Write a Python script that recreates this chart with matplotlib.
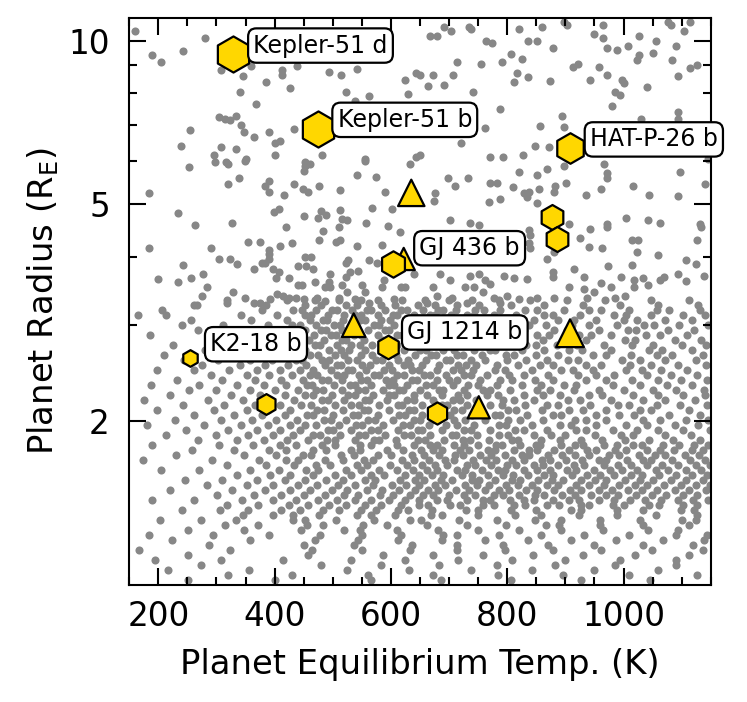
import matplotlib
matplotlib.use("Agg")
import matplotlib.pyplot as plt
from matplotlib.ticker import FixedLocator, FixedFormatter, MultipleLocator, NullFormatter

plt.rcParams['font.family'] = ['DejaVu Sans']

# background planet population, sparse upper part: (Teq [K], radius [R_E])
field_upper = [
    (160, 10.4), (281, 10.1), (189, 9.39), (205, 9.15), (243, 9.55), (308, 8.81), (346, 8.59), (360, 8.98),
    (412, 8.81), (412, 8.63), (438, 8.98), (493, 8.74), (514, 8.63), (541, 8.88), (624, 8.45), (643, 8.70),
    (386, 8.38), (426, 8.17), (341, 8.06), (522, 8.06), (562, 7.90), (539, 7.73), (629, 7.99), (368, 7.64),
    (305, 7.25), (315, 7.19), (324, 7.13), (333, 7.28), (343, 7.01), (255, 6.84), (348, 6.78), (365, 6.64),
    (391, 6.78), (434, 6.87), (239, 6.41), (307, 6.38), (333, 6.33), (401, 6.47), (410, 6.53), (295, 6.15),
    (350, 6.07), (401, 6.15), (481, 6.15), (555, 6.07), (453, 5.99), (643, 6.12), (317, 5.97),
    (667, 10.2), (679, 10.2), (691, 10.6), (703, 10.4), (735, 10.6), (737, 10.5), (820, 10.5), (860, 10.6),
    (897, 10.8), (903, 10.7), (965, 10.7), (949, 10.3), (965, 10.1), (1027, 10.2), (1055, 10.0), (1077, 10.8),
    (1082, 10.7), (1104, 10.4), (1115, 10.8), (764, 10.0), (774, 9.9), (835, 9.96), (852, 10.0), (878, 9.7),
    (972, 9.7), (988, 9.6), (1008, 9.75), (1027, 9.4), (1023, 9.2), (1050, 9.5), (1090, 9.75), (1084, 9.2),
    (1115, 8.9), (1127, 9.0), (1094, 8.6), (806, 9.46), (791, 9.15), (825, 9.26), (755, 9.07), (714, 9.15),
    (650, 8.66), (672, 8.66), (706, 8.63), (663, 8.24), (691, 8.27), (741, 8.06), (816, 8.7), (836, 8.56),
    (811, 8.38), (873, 8.41), (913, 8.95), (921, 9.07), (958, 8.95), (942, 8.45), (972, 8.63), (998, 8.45),
    (1001, 8.34), (1040, 8.2), (986, 8.06), (994, 7.93), (981, 7.57), (788, 7.48), (894, 7.28), (856, 6.98),
    (897, 6.95), (762, 6.9), (720, 6.47), (848, 6.41), (871, 6.38), (771, 6.12), (793, 6.12), (827, 6.15),
    (1030, 7.19), (1093, 7.38), (1093, 7.19), (1145, 6.07), (650, 6.15),
    (252, 5.85), (298, 5.97), (320, 5.92), (349, 6.02), (450, 5.77), (453, 5.89), (461, 5.94), (556, 6.02),
    (633, 5.92), (184, 5.24), (234, 4.83), (263, 4.59), (320, 5.45), (339, 5.59), (326, 4.63), (383, 5.4),
    (390, 5.52), (391, 5.28), (416, 5.21), (434, 5.45), (449, 5.33), (457, 5.26), (476, 5.4), (513, 5.31),
    (541, 5.67), (575, 5.62), (590, 5.26), (399, 4.85), (408, 4.91), (450, 4.77), (480, 4.87), (488, 4.79),
    (474, 4.72), (513, 4.89), (516, 4.7), (525, 4.69), (568, 4.93), (601, 4.91), (558, 4.63), (511, 4.54),
    (420, 4.54), (483, 4.46), (595, 4.56), (615, 4.44), (184, 4.16), (291, 4.16), (355, 4.27), (375, 4.27),
    (410, 4.2), (430, 4.25), (476, 4.3), (506, 4.27), (513, 4.3), (541, 4.2), (585, 4.21), (391, 4.13),
    (390, 4.06), (305, 3.97), (323, 3.97), (336, 3.88), (243, 3.87), (277, 3.73), (257, 3.66), (234, 3.6),
    (200, 3.65), (284, 3.53), (275, 3.4), (364, 3.8), (378, 3.91), (383, 3.9), (391, 3.97), (398, 3.81),
    (407, 3.75), (403, 3.66), (424, 3.66), (440, 3.85), (453, 4.0), (463, 4.0), (454, 3.85), (466, 3.81),
    (470, 3.6), (496, 3.72), (493, 3.6), (522, 3.91), (527, 3.95), (522, 3.68), (530, 3.75), (544, 3.78),
    (562, 3.95), (576, 3.9), (440, 3.55), (447, 3.55), (487, 3.53), (496, 3.52), (516, 3.56), (525, 3.45),
    (551, 3.55), (555, 3.45), (585, 3.53), (588, 3.63), (617, 3.52), (625, 3.53), (640, 3.73), (605, 3.35),
    (349, 3.37), (364, 3.3), (375, 3.3), (392, 3.35), (404, 3.43), (415, 3.4), (424, 3.37), (436, 3.37),
    (450, 3.35), (473, 3.37), (487, 3.33), (510, 3.37), (539, 3.35), (562, 3.3), (318, 3.29), (329, 3.45),
    (266, 3.27),
    (820, 5.73), (851, 5.67), (868, 5.8), (898, 5.87), (966, 5.94), (972, 5.7), (971, 5.6), (1097, 5.73),
    (1140, 5.45), (699, 5.59), (733, 5.59), (710, 5.4), (770, 5.47), (782, 5.47), (810, 5.38), (828, 5.24),
    (837, 5.26), (834, 5.15), (854, 5.33), (880, 5.26), (883, 5.4), (901, 5.47), (936, 5.21), (961, 5.33),
    (1017, 5.4), (1044, 5.21), (1094, 5.19), (676, 5.24), (674, 5.07), (768, 5.05), (788, 5.11), (851, 5.03),
    (702, 4.69), (736, 4.63), (752, 4.59), (837, 4.48), (840, 4.39), (837, 4.25), (839, 4.15), (906, 4.61),
    (942, 4.5), (925, 4.34), (971, 4.61), (971, 4.54), (1005, 4.73), (1042, 4.69), (1063, 4.63), (1132, 4.61),
    (1133, 4.54), (1014, 4.31), (1025, 4.3), (1127, 4.3), (940, 4.18), (963, 4.15), (1024, 4.08), (1059, 4.03),
    (880, 4.08), (869, 3.97), (915, 3.81), (974, 3.85), (1015, 3.87), (1107, 3.95), (1124, 3.88), (1093, 3.72),
    (1138, 3.7), (1070, 3.68), (1063, 3.63), (1034, 3.66), (1018, 3.63), (995, 3.68), (961, 3.58), (932, 3.68),
    (878, 3.75), (879, 3.68), (1042, 3.55), (1018, 3.53), (1107, 3.61), (978, 3.52), (986, 3.37), (1002, 3.4),
    (949, 3.45), (932, 3.5), (938, 3.37), (906, 3.52), (880, 3.37), (851, 3.37), (685, 3.72), (702, 3.63),
    (736, 3.7), (751, 3.73), (762, 3.63), (771, 3.57), (794, 3.69), (811, 3.66), (834, 3.65), (673, 3.53),
    (728, 3.52), (742, 3.53), (759, 3.45), (777, 3.37), (800, 3.4), (820, 3.35), (705, 3.37), (679, 3.4),
    (662, 3.3), (731, 3.3), (788, 3.3),
]

# dense lower part, read row by row: radius of the row, then Teq of the dots in it
field_row_rad = [3.333, 3.264,
                 3.195, 3.128, 3.063, 2.999, 2.937, 2.875, 2.815, 2.757, 2.699, 2.643, 2.588, 2.533, 2.480,
                 2.429, 2.378, 2.328, 2.280, 2.232, 2.185, 2.140, 2.095, 2.051, 2.008, 1.966, 1.925, 1.885,
                 1.845, 1.807, 1.769, 1.732, 1.696, 1.660, 1.626, 1.592, 1.558, 1.526, 1.494, 1.463, 1.432,
                 1.402, 1.373, 1.344, 1.316, 1.288, 1.261, 1.235, 1.209, 1.184, 1.159, 1.135, 1.111, 1.088,
                 1.065, 1.043, 1.021]
field_row_teq = [
    [318, 421, 470, 511, 548, 577, 619, 658, 700, 739, 785, 840, 902, 968, 1047, 1112],
    [262, 386, 452, 480, 522, 541, 583, 607, 646, 676, 713, 752, 807, 863, 931, 994, 1060, 1128],
    [206, 378, 431, 447, 472, 498, 507, 533, 559, 566, 590, 618, 627, 655, 681, 690, 712, 745, 760, 788, 830, 851, 897, 940, 962, 1010, 1058, 1079, 1131],
    [165, 214, 342, 404, 452, 463, 491, 520, 538, 549, 577, 603, 611, 640, 668, 675, 703, 731, 742, 777, 815, 864, 878, 925, 983, 1004, 1047, 1102, 1140],
    [257, 360, 421, 461, 484, 490, 518, 547, 556, 583, 598, 624, 652, 663, 688, 719, 734, 768, 792, 806, 846, 887, 914, 953, 1000, 1023, 1071, 1118],
    [240, 312, 389, 430, 443, 471, 502, 513, 539, 571, 580, 606, 634, 646, 670, 699, 707, 741, 773, 811, 838, 866, 912, 941, 989, 1035, 1052, 1095, 1145],
    [269, 351, 404, 452, 479, 488, 516, 528, 560, 589, 597, 625, 655, 664, 692, 720, 749, 758, 795, 828, 881, 903, 957, 1008, 1021, 1077, 1122],
    [186, 328, 373, 418, 437, 468, 497, 505, 537, 549, 578, 611, 619, 644, 678, 688, 712, 729, 766, 787, 852, 872, 923, 944, 979, 1038, 1063, 1109],
    [296, 362, 399, 446, 459, 485, 516, 523, 553, 585, 594, 630, 641, 660, 697, 706, 738, 776, 801, 816, 861, 899, 935, 1003, 1019, 1088, 1133],
    [226, 318, 382, 425, 470, 478, 507, 532, 547, 568, 602, 611, 637, 669, 677, 721, 733, 756, 790, 833, 849, 886, 920, 966, 1014, 1051, 1100, 1141],
    [280, 345, 405, 440, 452, 494, 514, 528, 556, 583, 589, 622, 650, 661, 689, 708, 743, 771, 779, 825, 864, 906, 929, 978, 1043, 1066, 1118],
    [210, 330, 376, 419, 460, 474, 503, 520, 548, 568, 595, 609, 641, 669, 677, 713, 724, 756, 798, 812, 849, 887, 948, 970, 1012, 1057, 1084, 1136],
    [245, 303, 358, 396, 437, 447, 481, 493, 527, 541, 574, 585, 613, 629, 660, 694, 702, 738, 762, 800, 833, 869, 905, 921, 997, 1029, 1071, 1124],
    [275, 340, 383, 423, 454, 486, 508, 514, 551, 564, 597, 622, 632, 653, 682, 715, 729, 747, 783, 818, 856, 878, 935, 962, 1011, 1048, 1093, 1142],
    [198, 262, 322, 370, 410, 443, 466, 497, 526, 533, 557, 588, 601, 636, 648, 679, 707, 720, 741, 779, 797, 843, 892, 913, 947, 1005, 1031, 1064, 1109],
    [290, 352, 391, 430, 461, 473, 507, 519, 545, 571, 580, 610, 622, 657, 668, 694, 725, 738, 766, 803, 829, 870, 922, 953, 984, 1040, 1081, 1127],
    [232, 310, 366, 411, 448, 482, 491, 516, 548, 559, 591, 603, 636, 644, 680, 700, 714, 754, 787, 808, 847, 879, 936, 969, 1015, 1060, 1098, 1144],
    [187, 270, 335, 382, 419, 456, 465, 502, 530, 539, 566, 597, 606, 627, 661, 673, 706, 733, 749, 782, 826, 858, 898, 919, 982, 1029, 1074, 1117],
    [253, 300, 357, 401, 441, 472, 483, 516, 543, 555, 586, 614, 621, 650, 683, 690, 726, 758, 771, 805, 852, 873, 915, 957, 1000, 1050, 1091, 1138],
    [220, 325, 375, 418, 452, 466, 499, 527, 538, 570, 597, 605, 639, 662, 688, 716, 731, 766, 784, 829, 862, 890, 941, 963, 1016, 1059, 1102, 1140],
    [176, 285, 345, 393, 434, 481, 491, 519, 556, 563, 594, 628, 640, 672, 706, 719, 747, 793, 812, 846, 904, 925, 978, 1034, 1071, 1123],
    [242, 313, 367, 409, 445, 462, 504, 531, 545, 579, 612, 619, 653, 688, 697, 730, 770, 791, 831, 869, 887, 943, 990, 1010, 1058, 1097, 1143],
    [197, 296, 352, 389, 427, 473, 485, 518, 553, 561, 596, 631, 639, 676, 708, 722, 755, 801, 815, 859, 907, 931, 970, 1028, 1047, 1112],
    [262, 330, 378, 418, 455, 466, 501, 534, 543, 577, 614, 624, 654, 690, 702, 740, 779, 788, 834, 879, 893, 952, 993, 1018, 1079, 1131],
    [228, 307, 361, 402, 439, 485, 497, 523, 560, 572, 603, 640, 650, 671, 709, 727, 761, 802, 822, 862, 917, 936, 969, 1034, 1062, 1107, 1146],
    [180, 278, 342, 388, 426, 453, 472, 510, 540, 551, 586, 621, 632, 665, 695, 713, 742, 785, 798, 843, 890, 909, 953, 1004, 1040, 1088, 1128],
    [248, 320, 370, 410, 444, 491, 500, 531, 566, 578, 612, 646, 654, 687, 725, 738, 770, 814, 829, 868, 918, 935, 982, 1023, 1059, 1102, 1149],
    [213, 299, 355, 397, 431, 466, 478, 513, 545, 555, 590, 622, 634, 667, 705, 712, 748, 786, 801, 846, 876, 900, 951, 996, 1017, 1072, 1116],
    [268, 336, 382, 421, 457, 490, 503, 538, 571, 580, 609, 646, 659, 692, 724, 736, 768, 808, 819, 858, 890, 927, 963, 1002, 1044, 1085, 1131],
    [189, 305, 362, 409, 437, 481, 503, 546, 565, 611, 640, 667, 679, 708, 726, 749, 780, 791, 822, 849, 857, 892, 916, 930, 966, 988, 1017, 1031, 1068, 1096, 1121, 1146],
    [258, 330, 391, 420, 466, 489, 532, 547, 593, 620, 651, 673, 688, 719, 735, 767, 779, 812, 838, 851, 881, 907, 937, 952, 986, 1004, 1040, 1063, 1087, 1118, 1137],
    [231, 348, 402, 449, 462, 515, 537, 577, 600, 636, 657, 682, 711, 724, 754, 772, 797, 826, 838, 870, 894, 916, 941, 975, 992, 1026, 1054, 1071, 1105, 1130],
    [173, 292, 374, 419, 440, 486, 517, 553, 570, 619, 640, 666, 693, 708, 741, 763, 781, 809, 828, 859, 873, 901, 929, 958, 970, 1006, 1033, 1047, 1083, 1114, 1140],
    [318, 385, 433, 471, 496, 541, 559, 599, 627, 653, 676, 697, 730, 745, 772, 800, 815, 846, 862, 888, 914, 932, 966, 990, 1013, 1041, 1066, 1093, 1125, 1148],
    [205, 270, 357, 408, 454, 474, 522, 548, 580, 611, 638, 662, 680, 714, 728, 756, 784, 797, 829, 851, 874, 902, 918, 950, 977, 998, 1023, 1056, 1076, 1107, 1133],
    [335, 392, 427, 466, 503, 531, 566, 588, 625, 648, 671, 690, 723, 740, 767, 792, 810, 836, 864, 879, 911, 937, 959, 984, 1012, 1032, 1061, 1091, 1117, 1144],
    [246, 310, 370, 417, 453, 489, 518, 556, 573, 616, 642, 657, 686, 705, 739, 752, 779, 808, 822, 853, 877, 896, 927, 951, 970, 1003, 1029, 1050, 1081, 1108, 1136],
    [284, 352, 397, 441, 473, 509, 538, 570, 602, 626, 649, 675, 693, 727, 748, 768, 798, 819, 843, 869, 888, 918, 940, 966, 993, 1019, 1041, 1070, 1099, 1124, 1149],
    [220, 327, 384, 426, 461, 498, 525, 559, 584, 614, 641, 664, 681, 712, 734, 761, 786, 803, 833, 852, 880, 908, 926, 957, 981, 1008, 1031, 1058, 1089, 1112, 1141],
    [301, 365, 411, 451, 486, 519, 544, 581, 603, 633, 656, 672, 700, 725, 745, 777, 792, 820, 847, 864, 895, 917, 944, 970, 991, 1022, 1049, 1073, 1102, 1127],
    [190, 262, 344, 397, 436, 474, 507, 539, 566, 597, 625, 649, 680, 697, 730, 758, 771, 804, 829, 846, 879, 906, 924, 958, 983, 1011, 1037, 1064, 1093, 1120, 1146],
    [318, 371, 425, 458, 494, 522, 556, 583, 617, 648, 664, 701, 719, 758, 777, 812, 831, 868, 889, 926, 941, 982, 1001, 1043, 1061, 1102, 1126],
    [240, 306, 355, 411, 443, 484, 511, 549, 574, 612, 629, 671, 729, 749, 806, 849, 909, 927, 989, 1033, 1099, 1121],
    [345, 398, 431, 476, 541, 566, 607, 669, 688, 750, 814, 858, 923, 988, 1056, 1126],
    [203, 274, 333, 431, 453, 505, 571, 633, 652, 717, 782, 848, 893, 960, 1029, 1100, 1124],
    [315, 372, 456, 484, 552, 594, 662, 730, 798, 866, 889, 959, 1034, 1113],
    [251, 348, 445, 519, 546, 611, 681, 750, 821, 892, 965, 1042, 1094],
    [184, 294, 391, 478, 551, 618, 690, 714, 786, 858, 932, 1009, 1090, 1144],
    [223, 358, 469, 544, 613, 687, 761, 835, 910, 987, 1068, 1139],
    [288, 451, 536, 636, 714, 792, 870, 950, 1033, 1119],
    [166, 324, 464, 550, 632, 714, 796, 878, 962, 1049, 1137],
    [251, 458, 586, 672, 758, 844, 931, 1020, 1112],
    [194, 307, 414, 532, 624, 716, 808, 900, 994, 1090],
    [274, 480, 583, 683, 783, 883, 985, 1090],
    [216, 356, 525, 631, 737, 843, 950, 1059],
    [319, 430, 560, 672, 784, 896, 1010, 1126],
    [251, 400, 566, 686, 806, 926, 1046],
]

# highlighted planets
hex_names = ['Kepler-51 d', 'Kepler-51 b', 'HAT-P-26 b', '', '', 'GJ 436 b', 'GJ 1214 b', 'K2-18 b', '', '']
hex_teq = [328, 474, 908, 877, 886, 604, 595, 255, 386, 679]
hex_rad = [9.45, 6.89, 6.35, 4.75, 4.32, 3.89, 2.74, 2.61, 2.15, 2.07]
tri_teq = [635, 622, 536, 908, 751]
tri_rad = [5.25, 3.97, 3.00, 2.90, 2.12]

# marker sizes (points) and label offsets (points)
hex_ms = [26, 26, 22, 18, 18, 19, 17, 12, 15, 16]
tri_ms = [19, 16, 17, 20, 16]
label_offsets = {
    'Kepler-51 d': (14.8, 6.0),
    'Kepler-51 b': (14.3, 6.3),
    'HAT-P-26 b': (14.3, 6.1),
    'GJ 436 b': (18.8, 11.2),
    'GJ 1214 b': (13.8, 10.2),
    'K2-18 b': (14.3, 10.0),
}

field_teq = [p[0] for p in field_upper]
field_rad = [p[1] for p in field_upper]
for r, temps in zip(field_row_rad, field_row_teq):
    field_teq.extend(temps)
    field_rad.extend([r] * len(temps))

gold = '#FFD700'

fig = plt.figure(figsize=(7.47, 7.02), dpi=100)
ax = fig.add_axes([0.1730, 0.1667, 0.7785, 0.8077])

ax.scatter(field_teq, field_rad, s=34, color='#878787', linewidths=0, zorder=1)
ax.scatter(tri_teq, tri_rad, s=[m ** 2 for m in tri_ms], marker='^', color=gold,
           edgecolors='black', linewidths=1.6, zorder=3)
for t, r, m in zip(hex_teq, hex_rad, hex_ms):
    ax.scatter([t], [r], s=m ** 2, marker='h', color=gold, edgecolors='black',
               linewidths=1.6, zorder=4)

for name, t, r in zip(hex_names, hex_teq, hex_rad):
    if not name:
        continue
    dx, dy = label_offsets[name]
    ax.annotate(name, (t, r), xytext=(dx, dy), textcoords='offset points',
                ha='left', va='center', fontsize=17, zorder=6,
                bbox=dict(boxstyle='round,pad=0.22,rounding_size=0.35', fc='white', ec='black', lw=1.6))

ax.set_yscale('log')
ax.set_xlim(150, 1150)
ax.set_ylim(1.0, 11.0)

ax.xaxis.set_major_locator(MultipleLocator(200))
ax.xaxis.set_minor_locator(MultipleLocator(50))
ax.yaxis.set_major_locator(FixedLocator([2, 5, 10]))
ax.yaxis.set_major_formatter(FixedFormatter(['2', '5', '10']))
ax.yaxis.set_minor_locator(FixedLocator([3, 4, 6, 7, 8, 9]))
ax.yaxis.set_minor_formatter(NullFormatter())

ax.tick_params(which='both', direction='in', top=True, right=True, width=1.5)
ax.tick_params(which='major', length=12.5, labelsize=23.5)
ax.tick_params(which='minor', length=6)
ax.tick_params(axis='x', which='major', pad=11)
ax.tick_params(axis='y', which='major', pad=14)
for sp in ax.spines.values():
    sp.set_linewidth(1.5)

ax.set_xlabel('Planet Equilibrium Temp. (K)', fontsize=24.4)
ax.set_ylabel(r'Planet Radius (R$_\mathregular{E}$)', fontsize=24.4)
ax.xaxis.set_label_coords(0.5, -0.112)
ax.yaxis.set_label_coords(-0.118, 0.5)

fig.savefig('out.png', dpi=100)
